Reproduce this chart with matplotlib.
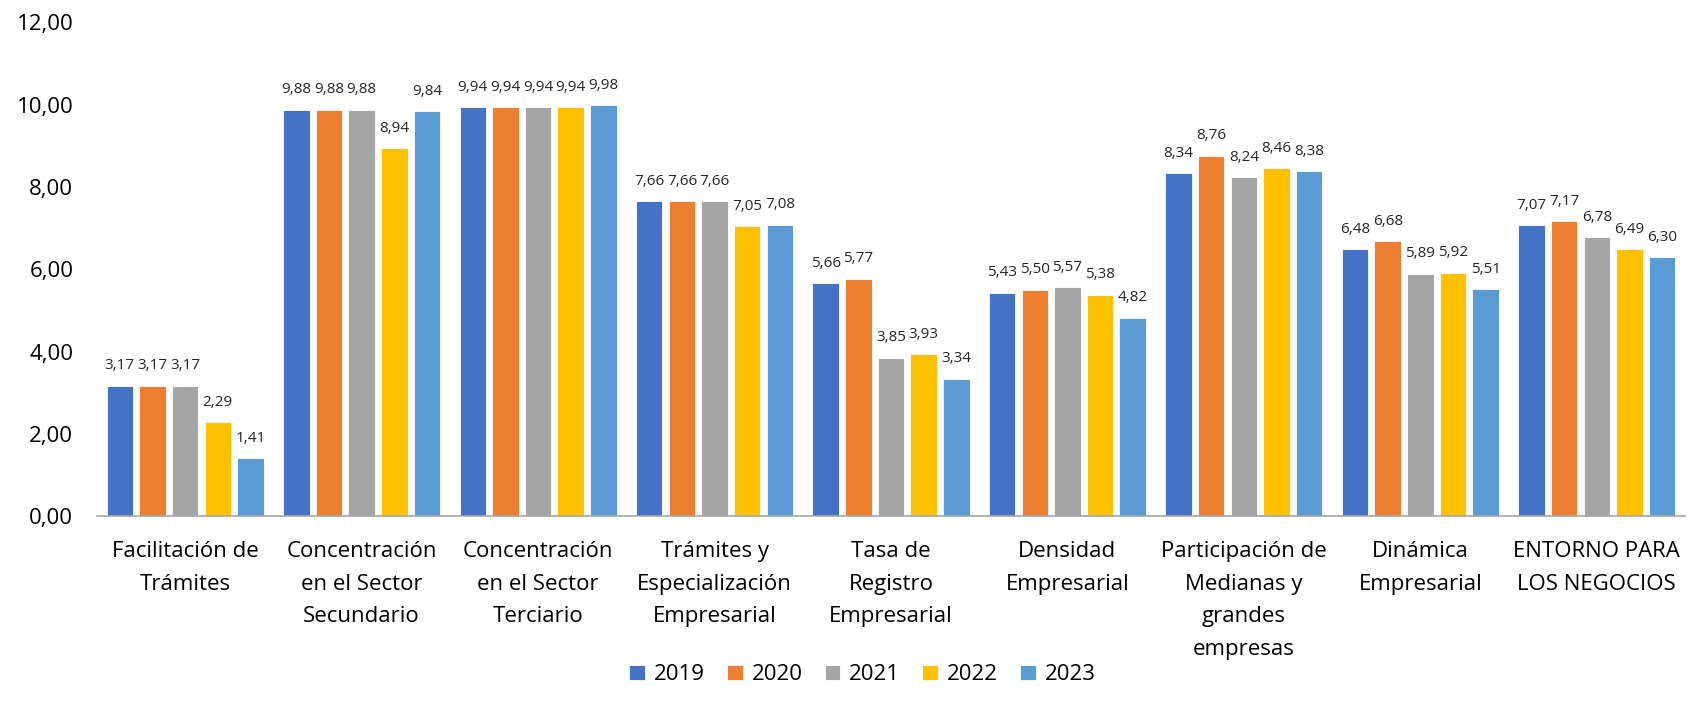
import matplotlib
matplotlib.use("Agg")
import matplotlib.pyplot as plt
import numpy as np

categories = ["Facilitación de\nTrámites", "Concentración\nen el Sector\nSecundario",
              "Concentración\nen el Sector\nTerciario", "Trámites y\nEspecialización\nEmpresarial",
              "Tasa de\nRegistro\nEmpresarial", "Densidad\nEmpresarial",
              "Participación de\nMedianas y\ngrandes\nempresas", "Dinámica\nEmpresarial",
              "ENTORNO PARA\nLOS NEGOCIOS"]
years = ["2019", "2020", "2021", "2022", "2023"]
v2019 = [3.17, 9.88, 9.94, 7.66, 5.66, 5.43, 8.34, 6.48, 7.07]
v2020 = [3.17, 9.88, 9.94, 7.66, 5.77, 5.50, 8.76, 6.68, 7.17]
v2021 = [3.17, 9.88, 9.94, 7.66, 3.85, 5.57, 8.24, 5.89, 6.78]
v2022 = [2.29, 8.94, 9.94, 7.05, 3.93, 5.38, 8.46, 5.92, 6.49]
v2023 = [1.41, 9.84, 9.98, 7.08, 3.34, 4.82, 8.38, 5.51, 6.30]
series = [v2019, v2020, v2021, v2022, v2023]
colors = ["#4472C4", "#ED7D31", "#A5A5A5", "#FFC000", "#5B9BD5"]

plt.rcParams['font.family'] = ['Open Sans', 'DejaVu Sans']

fig = plt.figure(figsize=(17.01, 7.17), dpi=100)
ax = fig.add_axes([0.057, 0.280, 0.9336, 0.689])

x = np.arange(len(categories))
pitch = 0.185
width = 0.15
for i, (vals, c, yr) in enumerate(zip(series, colors, years)):
    pos = x + (i - 2) * pitch
    bars = ax.bar(pos, vals, width=width, color=c, label=yr, edgecolor='white', linewidth=0.6)
    for b, v in zip(bars, vals):
        ax.text(b.get_x() + b.get_width() / 2, v + 0.3, f"{v:.2f}".replace('.', ','),
                ha='center', va='bottom', fontsize=11, color='#262626')

ax.set_xlim(-0.5, len(categories) - 0.5)
ax.set_ylim(0, 12)
ax.set_yticks(np.arange(0, 13, 2))
ax.set_yticklabels([f"{t:.2f}".replace('.', ',') for t in np.arange(0, 13, 2)], fontsize=16)
ax.set_xticks(x)
ax.set_xticklabels(categories, fontsize=16, linespacing=1.72, va='top')
ax.tick_params(axis='both', length=0, colors='#000000')
ax.tick_params(axis='x', pad=18)
ax.tick_params(axis='y', pad=17)
for s in ['top', 'right', 'left']:
    ax.spines[s].set_visible(False)
ax.spines['bottom'].set_color('#A6A6A6')
ax.spines['bottom'].set_linewidth(1.2)

fig.legend(loc='center', bbox_to_anchor=(0.507, 0.059), ncol=5, frameon=False,
           fontsize=16, handlelength=0.7, handleheight=0.7, handletextpad=0.4, columnspacing=1.0)

fig.savefig("out.png", dpi=100)
